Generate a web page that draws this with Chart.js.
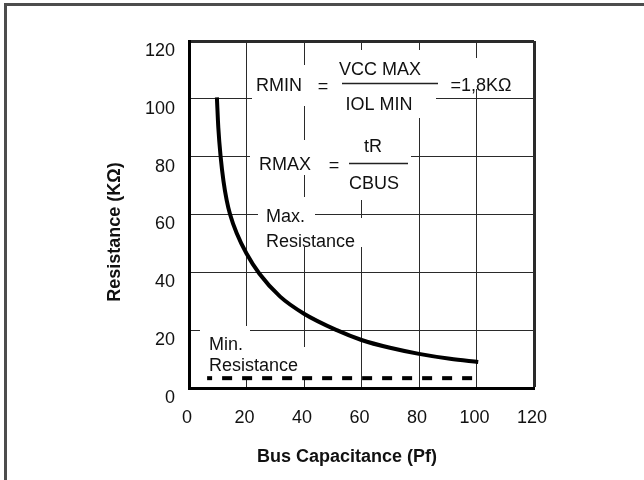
<!DOCTYPE html>
<html>
<head>
<meta charset="utf-8">
<script src="https://cdn.jsdelivr.net/npm/chart.js@4.4.1/dist/chart.umd.min.js"></script>
<style>
  html, body { margin: 0; padding: 0; background: #fff; }
  #wrap { width: 644px; height: 480px; position: relative; }
</style>
</head>
<body>
<div id="wrap"><canvas id="c" width="644" height="480"></canvas></div>
<script>
// valeurs
const capMax = [9.7, 10.2, 11.0, 12.0, 13.1, 14.3, 16.6, 20, 24.5, 31.7, 40, 51.4, 60, 69.9, 80, 90.8, 100.6];
const resMax = [100.5, 90, 80, 71.5, 65, 60, 53.5, 46.5, 39.5, 31.6, 25.7, 20, 16.6, 13.9, 11.8, 10.1, 9.0];
const capMin = [6.3, 99.6];
const resMin = [3.4, 3.4];
const xTicks = [0, 20, 40, 60, 80, 100, 120];
const yTicks = [0, 20, 40, 60, 80, 100, 120];

const FONT = "'Liberation Sans', Arial, sans-serif";

// zones blanches derriere les textes (coupent la grille)
const masks = [
  [252, 65, 312, 106],
  [312, 50, 436, 118],
  [440, 58, 521, 89],
  [250, 140, 320, 175],
  [320, 118, 411, 200],
  [258, 197, 315, 230],
  [258, 218, 366, 247],
  [200, 326, 250, 347],
  [198, 347, 307, 377]
];

const notes = [
  ["RMIN", 279, 86, "center"],
  ["=", 323, 87, "center"],
  ["VCC MAX", 380, 70, "center"],
  ["IOL MIN", 379, 105, "center"],
  ["=1,8KΩ", 481, 86, "center"],
  ["RMAX", 285, 165, "center"],
  ["=", 334, 166, "center"],
  ["tR", 373, 147, "center"],
  ["CBUS", 374, 184, "center"],
  ["Max.", 266, 217, "left"],
  ["Resistance", 266, 242, "left"],
  ["Min.", 209, 345, "left"],
  ["Resistance", 209, 366, "left"]
];

const notesPlugin = {
  id: "notes",
  beforeDraw(chart) {
    const c = chart.ctx;
    c.save();
    c.fillStyle = "#4d4d4d";
    c.fillRect(4, 3, 640, 3);
    c.fillRect(4, 3, 3, 477);
    c.restore();
  },
  beforeDatasetsDraw(chart) {
    const c = chart.ctx;
    c.save();
    c.fillStyle = "#fff";
    masks.forEach(m => c.fillRect(m[0], m[1], m[2] - m[0], m[3] - m[1]));

    c.fillStyle = "#111";
    c.font = "18px " + FONT;
    c.textBaseline = "middle";
    notes.forEach(n => {
      c.textAlign = n[3];
      c.fillText(n[0], n[1], n[2]);
    });

    // traits de fraction
    c.strokeStyle = "#222";
    c.lineWidth = 1.5;
    c.beginPath();
    c.moveTo(342, 83.5); c.lineTo(438, 83.5);
    c.moveTo(349, 163.5); c.lineTo(408, 163.5);
    c.stroke();
    c.restore();
  },
  afterDraw(chart) {
    const c = chart.ctx;
    c.save();
    c.fillStyle = "#111";
    c.font = "bold 18px " + FONT;
    c.textAlign = "center";
    c.textBaseline = "middle";
    c.fillText("Bus Capacitance (Pf)", 347, 457);
    c.translate(115, 232);
    c.rotate(-Math.PI / 2);
    c.fillText("Resistance (KΩ)", 0, 0);
    c.restore();
  }
};

const gridOpts = {
  color: "#2a2a2a",
  lineWidth: ctx => (ctx.tick && ctx.tick.value === 120 ? 3 : 1),
  drawTicks: false
};

new Chart(document.getElementById("c"), {
  type: "line",
  data: {
    datasets: [
      {
        label: "Max. Resistance",
        data: capMax.map((x, i) => ({ x, y: resMax[i] })),
        borderColor: "#000",
        borderWidth: 4,
        pointRadius: 0,
        cubicInterpolationMode: "monotone",
        fill: false
      },
      {
        label: "Min. Resistance",
        data: capMin.map((x, i) => ({ x, y: resMin[i] })),
        borderColor: "#000",
        borderWidth: 4,
        borderDash: [10, 10],
        borderDashOffset: 5,
        borderCapStyle: "butt",
        pointRadius: 0,
        fill: false
      }
    ]
  },
  options: {
    responsive: false,
    animation: false,
    layout: { padding: { top: 41, right: 110, left: 0, bottom: 0 } },
    plugins: { legend: { display: false }, tooltip: { enabled: false } },
    scales: {
      x: {
        type: "linear",
        min: xTicks[0],
        max: xTicks[xTicks.length - 1],
        afterBuildTicks: s => { s.ticks = xTicks.map(v => ({ value: v })); },
        afterFit: s => { s.height = 92; },
        grid: gridOpts,
        border: { color: "#000", width: 3 },
        ticks: { color: "#111", font: { family: FONT, size: 18 }, padding: 19, labelOffset: -2, maxRotation: 0 }
      },
      y: {
        type: "linear",
        min: yTicks[0],
        max: yTicks[yTicks.length - 1],
        afterBuildTicks: s => { s.ticks = yTicks.map(v => ({ value: v })); },
        afterFit: s => { s.width = 189; },
        grid: gridOpts,
        border: { color: "#000", width: 3 },
        ticks: { color: "#111", font: { family: FONT, size: 18 }, padding: 14, labelOffset: 10 }
      }
    }
  },
  plugins: [notesPlugin]
});
</script>
</body>
</html>
